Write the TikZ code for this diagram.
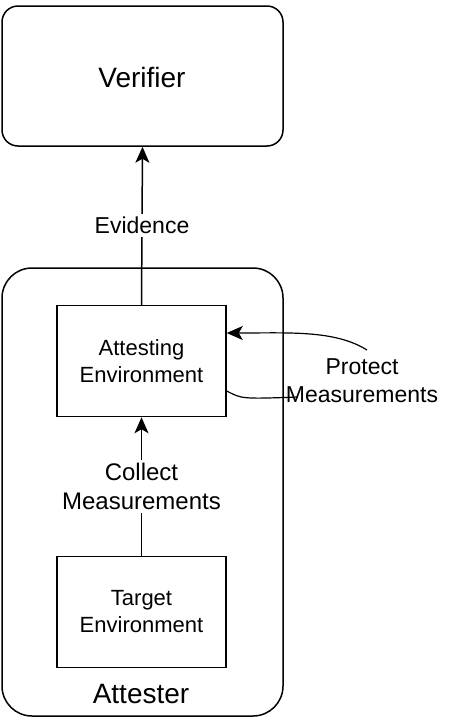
\documentclass[tikz,border=0pt]{standalone}
\usepackage{fontspec}
\setmainfont{Liberation Sans}
\usetikzlibrary{arrows.meta}
\begin{document}
\begin{tikzpicture}[x=1pt,y=-1pt,
  line width=1.5pt,
  outer/.style={draw, rounded corners=#1, line width=1.5pt},
  envbox/.style={draw, minimum width=169pt, minimum height=111pt, align=center,
    font=\fontsize{22}{27}\selectfont, inner sep=0pt},
  lbl/.style={fill=white, align=center, font=\fontsize{24}{29}\selectfont, inner sep=3pt},
  big/.style={font=\fontsize{28}{33}\selectfont, inner sep=0pt},
  tip/.style={-{Stealth[length=16pt,width=14pt,inset=4pt]}}
]
% canvas
\useasboundingbox[fill=white] (0,0) rectangle (457,718);

% outer containers
\node[outer=16pt, minimum width=281pt, minimum height=140pt] (verifier) at (142.5,76) {};
\node[big] (vlabel) at (142,77) {Verifier};
\node[outer=30pt, minimum width=281pt, minimum height=448pt] (attester) at (142.5,492) {};
\node[big, anchor=base] (alabel) at (141,703) {Attester};

% inner environments
\node[envbox] (attenv) at (141.5,361) {Attesting\\Environment};
\node[envbox] (tgtenv) at (141.5,612) {Target\\Environment};

% evidence flow
\draw[tip] (attenv.north) -- (verifier.south)
  node[lbl, pos=0.5, font=\fontsize{23}{28}\selectfont] (evidence) {Evidence};
\draw[tip] (tgtenv.north) -- (attenv.south)
  node[lbl, pos=0.5] (collect) {Collect\\Measurements};

% measurement protection loop
\node[align=center, font=\fontsize{23}{28}\selectfont, inner sep=0pt] (protect) at (362,381) {Protect\\Measurements};
\coordinate (ptop) at (367,350);
\coordinate (pbot) at (298,397);
\draw[tip, line width=1.2pt] (ptop) .. controls (335,330) and (290,333) .. (attenv.east |- 0,333);
\draw[line width=1.2pt] (attenv.east |- 0,391) .. controls (242,399) .. (pbot);
\end{tikzpicture}
\end{document}
